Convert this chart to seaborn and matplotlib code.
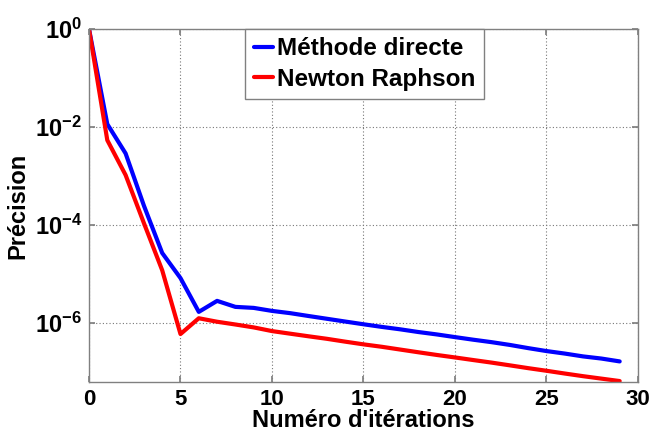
import numpy as np
import pandas as pd
import matplotlib
matplotlib.use("Agg")
import matplotlib.pyplot as plt
import seaborn as sns
from matplotlib.ticker import FixedLocator, FuncFormatter, NullLocator

# Iteration numbers and convergence precision of both solvers
iterations = list(range(30))
directe = [1.0, 1.15e-2, 2.9e-3, 2.5e-4, 2.7e-5, 8.3e-6, 1.7e-6, 2.85e-6, 2.15e-6, 2.05e-6,
           1.78e-6, 1.6e-6, 1.4e-6, 1.23e-6, 1.08e-6, 9.5e-7, 8.4e-7, 7.5e-7, 6.6e-7, 5.9e-7,
           5.2e-7, 4.6e-7, 4.1e-7, 3.6e-7, 3.1e-7, 2.7e-7, 2.4e-7, 2.1e-7, 1.9e-7, 1.66e-7]
newton = [1.0, 5.4e-3, 1.05e-3, 1.1e-4, 1.2e-5, 6.0e-7, 1.26e-6, 1.07e-6, 9.4e-7, 8.2e-7,
          6.9e-7, 6.1e-7, 5.4e-7, 4.8e-7, 4.2e-7, 3.7e-7, 3.3e-7, 2.9e-7, 2.55e-7, 2.25e-7,
          2.0e-7, 1.77e-7, 1.57e-7, 1.38e-7, 1.21e-7, 1.07e-7, 9.4e-8, 8.3e-8, 7.4e-8, 6.6e-8]
series_names = ["Méthode directe", "Newton Raphson"]
series_colors = ["#0000ff", "#ff0000"]

x_ticks = [0, 5, 10, 15, 20, 25, 30]
y_tick_exponents = [0, -2, -4, -6]

df = pd.DataFrame({
    "iter": iterations * 2,
    "prec": directe + newton,
    "method": [series_names[0]] * len(iterations) + [series_names[1]] * len(iterations),
})

sns.set_theme(style="white")
plt.rcParams["font.family"] = ["Liberation Sans", "DejaVu Sans"]
plt.rcParams["font.weight"] = "bold"
plt.rcParams["text.color"] = "black"
plt.rcParams["axes.labelcolor"] = "black"
plt.rcParams["xtick.color"] = "black"
plt.rcParams["ytick.color"] = "black"
plt.rcParams["mathtext.fontset"] = "custom"
plt.rcParams["mathtext.rm"] = "Liberation Sans:bold"
plt.rcParams["mathtext.bf"] = "Liberation Sans:bold"
plt.rcParams["mathtext.it"] = "Liberation Sans:bold"

fig = plt.figure(figsize=(6.52, 4.32), dpi=100)
ax = fig.add_axes([0.1365, 0.1157, 0.842, 0.8172])

sns.lineplot(data=df, x="iter", y="prec", hue="method", palette=series_colors,
             hue_order=series_names, linewidth=3.0, ax=ax, legend=True)

ax.set_yscale("log")
ax.set_xlim(0, 30)
ax.set_ylim(10 ** -7.2, 1.0)

ax.xaxis.set_major_locator(FixedLocator(x_ticks))
ax.yaxis.set_major_locator(FixedLocator([10.0 ** e for e in y_tick_exponents]))
ax.yaxis.set_minor_locator(NullLocator())
ax.yaxis.set_major_formatter(FuncFormatter(
    lambda v, p: r"$\mathbf{10^{%d}}$" % int(round(np.log10(v)))))

ax.grid(True, which="major", color="#777777", linestyle=(0, (1.0, 2.0)), linewidth=0.8)
for s in ax.spines.values():
    s.set_color("#808080")
    s.set_linewidth(1.0)
ax.tick_params(axis="both", which="major", direction="in", length=4, color="#808080",
               labelcolor="black", top=True, right=True, bottom=True, left=True)
ax.tick_params(axis="x", labelsize=16, pad=5)
ax.tick_params(axis="y", labelsize=17, pad=5)
for lab in ax.get_xticklabels() + ax.get_yticklabels():
    lab.set_fontweight("bold")
    lab.set_color("black")

ax.set_xlabel("Numéro d'itérations", fontsize=17, fontweight="bold", labelpad=-1, color="black")
ax.set_ylabel("Précision", fontsize=17, fontweight="bold", labelpad=4, color="black")

leg = ax.legend(loc="upper left", bbox_to_anchor=(0.285, 1.0),
                handlelength=0.8, handletextpad=0.15, borderpad=0.35,
                labelspacing=0.3, fancybox=False, framealpha=1.0,
                edgecolor="#808080", borderaxespad=0.0, prop={"weight": "bold", "size": 17.5})
leg.get_frame().set_linewidth(1.0)
for line in leg.get_lines():
    line.set_linewidth(3.0)
for txt in leg.get_texts():
    txt.set_color("black")

fig.savefig("out.png", dpi=100)
